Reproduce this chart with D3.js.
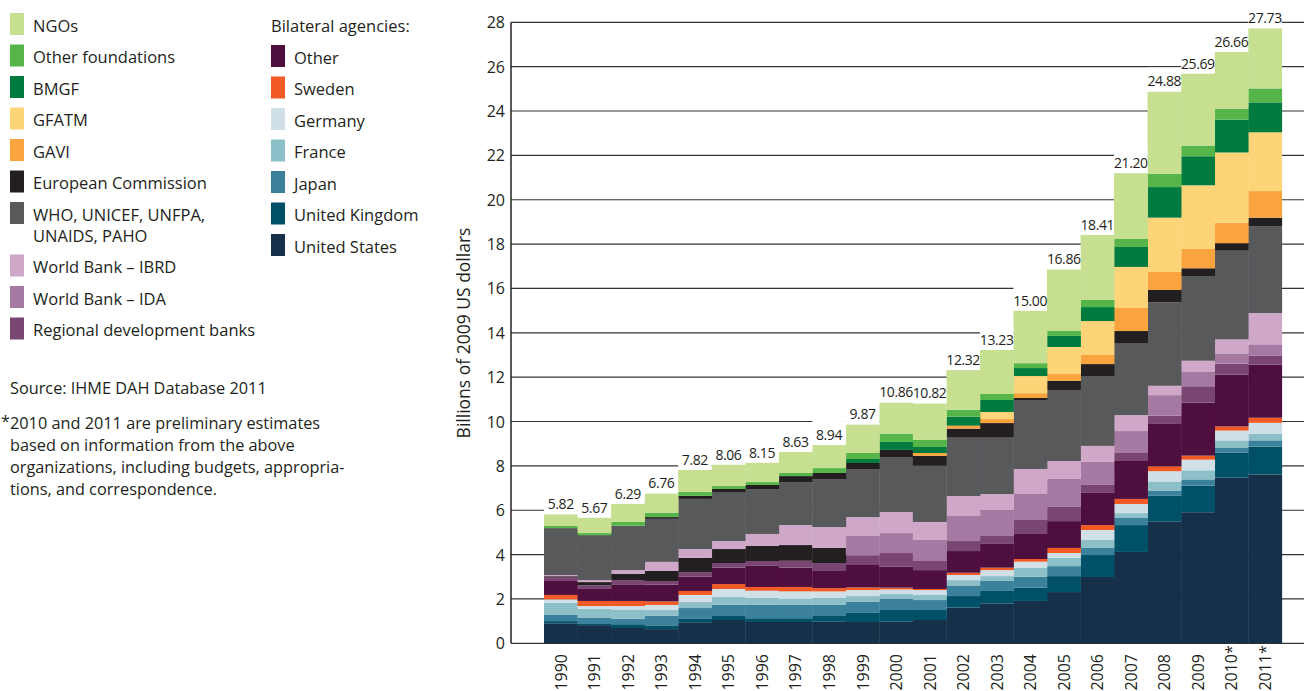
<!DOCTYPE html>
<html lang="en">
<head>
<meta charset="UTF-8">
<title>Development assistance for health by channel, 1990-2011</title>
<script src="https://cdn.jsdelivr.net/npm/d3@7"></script>
<style>
  body { margin: 0; background: #fff; }
  svg { display: block; font-family: "Open Sans", sans-serif; }
</style>
</head>
<body>
<svg id="chart" width="1304" height="691"></svg>
<script>
// ---- data (billions of 2009 US$) ----
const years = [1990,1991,1992,1993,1994,1995,1996,1997,1998,1999,2000,2001,2002,2003,2004,2005,2006,2007,2008,2009,2010,2011];
const yearLabels = ["1990","1991","1992","1993","1994","1995","1996","1997","1998","1999","2000","2001","2002","2003","2004","2005","2006","2007","2008","2009","2010*","2011*"];
const totals = [5.82,5.67,6.29,6.76,7.82,8.06,8.15,8.63,8.94,9.87,10.86,10.82,12.32,13.23,15.00,16.86,18.41,21.20,24.88,25.69,26.66,27.73];
const yTicks = [0,2,4,6,8,10,12,14,16,18,20,22,24,26,28];

const unitedStates   = [0.90,0.82,0.69,0.64,0.95,1.05,0.96,0.96,0.97,0.96,0.97,1.05,1.61,1.80,1.91,2.31,2.99,4.12,5.48,5.91,7.48,7.61];
const unitedKingdom  = [0.10,0.05,0.17,0.17,0.15,0.18,0.17,0.17,0.26,0.41,0.53,0.45,0.52,0.56,0.60,0.72,0.99,1.21,1.17,1.20,1.11,1.26];
const japan          = [0.28,0.27,0.25,0.43,0.49,0.51,0.61,0.60,0.50,0.51,0.50,0.45,0.48,0.45,0.49,0.45,0.32,0.32,0.24,0.28,0.24,0.28];
const france         = [0.55,0.41,0.42,0.26,0.27,0.35,0.30,0.27,0.31,0.25,0.22,0.23,0.24,0.22,0.41,0.38,0.36,0.22,0.41,0.41,0.32,0.31];
const germany        = [0.15,0.13,0.15,0.23,0.32,0.36,0.33,0.34,0.30,0.27,0.21,0.22,0.23,0.27,0.27,0.21,0.45,0.41,0.46,0.48,0.44,0.48];
const sweden         = [0.20,0.23,0.23,0.16,0.18,0.22,0.17,0.20,0.15,0.12,0.08,0.05,0.10,0.11,0.12,0.23,0.22,0.23,0.22,0.18,0.19,0.23];
const otherBilateral = [0.63,0.54,0.75,0.75,0.64,0.74,0.95,0.87,0.77,1.01,0.94,0.85,0.98,1.07,1.13,1.21,1.45,1.71,1.91,2.39,2.33,2.39];
const regionalBanks  = [0.19,0.16,0.19,0.17,0.21,0.21,0.22,0.31,0.36,0.44,0.62,0.41,0.45,0.36,0.63,0.64,0.36,0.36,0.37,0.74,0.50,0.42];
const worldBankIDA   = [0.03,0.15,0.29,0.45,0.64,0.63,0.68,0.71,0.68,0.87,0.90,0.95,1.13,1.17,1.20,1.26,1.04,0.99,0.93,0.67,0.46,0.50];
const worldBankIBRD  = [0.05,0.09,0.16,0.41,0.40,0.36,0.54,0.90,0.94,0.85,0.95,0.81,0.90,0.72,1.10,0.81,0.72,0.72,0.42,0.48,0.63,1.41];
const unAgencies     = [2.08,1.96,2.00,1.94,2.26,2.18,2.00,1.94,2.14,2.14,2.45,2.54,2.63,2.54,3.11,3.20,3.15,3.25,3.76,3.82,4.00,3.92];
const europeanComm   = [0.03,0.06,0.00,0.08,0.14,0.17,0.21,0.27,0.30,0.30,0.35,0.44,0.41,0.66,0.09,0.41,0.54,0.54,0.56,0.35,0.34,0.38];
const gavi           = [0,0,0,0,0,0,0,0,0,0,0,0.13,0.13,0.18,0.22,0.31,0.41,1.04,0.81,0.87,0.92,1.20];
const gfatm          = [0,0,0,0,0,0,0,0,0,0,0,0,0,0.32,0.77,1.22,1.53,1.85,2.45,2.87,3.17,2.65];
const bmgf           = [0,0,0,0,0,0,0,0,0,0.18,0.36,0.27,0.41,0.54,0.36,0.50,0.63,0.90,1.38,1.31,1.48,1.35];
const otherFound     = [0.10,0.10,0.17,0.20,0.17,0.13,0.13,0.14,0.22,0.27,0.36,0.32,0.31,0.27,0.22,0.22,0.32,0.36,0.60,0.48,0.50,0.63];
const ngos           = [0.53,0.70,0.82,0.87,1.00,0.97,0.88,0.95,1.04,1.29,1.42,1.65,1.79,1.99,2.37,2.78,2.93,2.97,3.71,3.25,2.55,2.71];

// years in which the IDA layer is printed in the same near-black as the EC in the source figure
const idaDarkYears = [1990,1991,1992,1993,1994,1995,1996,1997,1998];

// stack order, bottom to top
const series = [
  { key: "us",   label: "United States",                   values: unitedStates,   color: "#163049" },
  { key: "uk",   label: "United Kingdom",                  values: unitedKingdom,  color: "#005068" },
  { key: "jp",   label: "Japan",                           values: japan,          color: "#3b819b" },
  { key: "fr",   label: "France",                          values: france,         color: "#8dbfc8" },
  { key: "de",   label: "Germany",                         values: germany,        color: "#d0e0e6" },
  { key: "se",   label: "Sweden",                          values: sweden,         color: "#f15a24" },
  { key: "ob",   label: "Other",                           values: otherBilateral, color: "#4f0f3e" },
  { key: "rdb",  label: "Regional development banks",      values: regionalBanks,  color: "#794672" },
  { key: "ida",  label: "World Bank \u2013 IDA",           values: worldBankIDA,   color: "#a679a2" },
  { key: "ibrd", label: "World Bank \u2013 IBRD",          values: worldBankIBRD,  color: "#cfa8c9" },
  { key: "un",   label: "WHO, UNICEF, UNFPA,|UNAIDS, PAHO", values: unAgencies,    color: "#58595b" },
  { key: "ec",   label: "European Commission",             values: europeanComm,   color: "#231f20" },
  { key: "gavi", label: "GAVI",                            values: gavi,           color: "#f9a43f" },
  { key: "gf",   label: "GFATM",                           values: gfatm,          color: "#fdd578" },
  { key: "bmgf", label: "BMGF",                            values: bmgf,           color: "#007b3d" },
  { key: "of",   label: "Other foundations",               values: otherFound,     color: "#55b548" },
  { key: "ngo",  label: "NGOs",                            values: ngos,           color: "#c6df91" }
];
const leftLegendKeys = ["ngo","of","bmgf","gf","gavi","ec","un","ibrd","ida","rdb"];
const rightLegendKeys = ["ob","se","de","fr","jp","uk","us"];

// ---- drawing ----
const svg = d3.select("#chart");
const textColor = "#231f20";
const axisX = 511;

const table = years.map((yr, i) => {
  const row = { year: yr };
  series.forEach(s => row[s.key] = s.values[i]);
  return row;
});
const stacked = d3.stack().keys(series.map(s => s.key))(table);
const colorOf = Object.fromEntries(series.map(s => [s.key, s.color]));

const x = d3.scaleBand().domain(years).range([544, 1281.7]).padding(0);
const y = d3.scaleLinear().domain([0, 28]).range([643.3, 22.3]);

// gridlines
svg.append("g")
  .selectAll("line")
  .data(yTicks)
  .join("line")
  .attr("x1", axisX).attr("x2", 1304)
  .attr("y1", d => y(d)).attr("y2", d => y(d))
  .attr("stroke", "#333").attr("stroke-width", 1.2);

svg.append("line")
  .attr("x1", axisX).attr("x2", axisX)
  .attr("y1", y(28)).attr("y2", y(0))
  .attr("stroke", "#222").attr("stroke-width", 1.5);

// tick labels
svg.append("g")
  .selectAll("text")
  .data(yTicks)
  .join("text")
  .attr("x", 505)
  .attr("y", d => y(d))
  .attr("text-anchor", "end")
  .attr("dominant-baseline", "central")
  .style("font-size", "16px")
  .attr("fill", textColor)
  .text(d => d);

svg.append("text")
  .attr("transform", "translate(463,333) rotate(-90)")
  .attr("text-anchor", "middle")
  .attr("dominant-baseline", "central")
  .style("font-size", "17.5px")
  .attr("fill", textColor)
  .text("Billions of 2009 US dollars");

// stacked bars
svg.append("g")
  .selectAll("g")
  .data(stacked)
  .join("g")
  .each(function (layer) {
    d3.select(this).selectAll("rect")
      .data(layer.filter(d => d[1] - d[0] > 0))
      .join("rect")
      .attr("x", d => x(d.data.year))
      .attr("width", x.bandwidth() + 0.4)
      .attr("y", d => y(d[1]))
      .attr("height", d => y(d[0]) - y(d[1]))
      .attr("fill", d => (layer.key === "ida" && idaDarkYears.includes(d.data.year)) ? colorOf.ec : colorOf[layer.key]);
  });

// total labels with white boxes
const labels = svg.append("g");
labels.selectAll("rect")
  .data(years)
  .join("rect")
  .attr("x", d => x(d))
  .attr("width", x.bandwidth())
  .attr("y", (d, i) => y(totals[i]) - 24)
  .attr("height", 24)
  .attr("fill", "#fff");
labels.selectAll("text")
  .data(years)
  .join("text")
  .attr("x", d => x(d) + x.bandwidth() / 2)
  .attr("y", (d, i) => y(totals[i]) - 5)
  .attr("text-anchor", "middle")
  .style("font-size", "14px")
  .style("letter-spacing", "-0.4px")
  .attr("fill", textColor)
  .text((d, i) => totals[i].toFixed(2));

// year labels: digits end just under the axis, the asterisk runs on past it
const yearG = svg.append("g").style("font-size", "16px").attr("fill", textColor);
years.forEach((yr, i) => {
  const cx = x(yr) + x.bandwidth() / 2;
  const digits = yearLabels[i].replace("*", "");
  yearG.append("text")
    .attr("transform", `translate(${cx},654) rotate(-90)`)
    .attr("text-anchor", "end")
    .attr("dominant-baseline", "central")
    .text(digits);
  if (yearLabels[i].endsWith("*")) {
    yearG.append("text")
      .attr("transform", `translate(${cx},654) rotate(-90)`)
      .attr("text-anchor", "start")
      .attr("dominant-baseline", "central")
      .text("*");
  }
});

// legend
const seriesByKey = Object.fromEntries(series.map(s => [s.key, s]));
function legendItem(g, s, xPos, top) {
  g.append("rect").attr("x", xPos).attr("y", top).attr("width", 14).attr("height", 22).attr("fill", s.color);
  s.label.split("|").forEach((line, j) => {
    g.append("text")
      .attr("x", xPos + 23)
      .attr("y", top + 12 + j * 21)
      .attr("dominant-baseline", "central")
      .style("font-size", "16.5px")
      .attr("fill", textColor)
      .text(line);
  });
}
const legend = svg.append("g");
leftLegendKeys.forEach((k, i) => {
  legendItem(legend, seriesByKey[k], 10, 13 + i * 31.5 + (i >= 7 ? 21 : 0));
});
legend.append("text")
  .attr("x", 271).attr("y", 25)
  .attr("dominant-baseline", "central")
  .style("font-size", "16.5px")
  .attr("fill", textColor)
  .text("Bilateral agencies:");
rightLegendKeys.forEach((k, i) => {
  legendItem(legend, seriesByKey[k], 271, 45 + i * 31.5);
});

// notes
const notes = svg.append("g").style("font-size", "16.3px").attr("fill", textColor);
notes.append("text").attr("x", 10).attr("y", 388).attr("dominant-baseline", "central")
  .text("Source: IHME DAH Database 2011");
notes.append("text").attr("x", 1).attr("y", 421).attr("dominant-baseline", "central").text("*");
["2010 and 2011 are preliminary estimates",
 "based on information from the above",
 "organizations, including budgets, appropria-",
 "tions, and correspondence."].forEach((line, i) => {
  notes.append("text").attr("x", 10).attr("y", 423 + i * 22)
    .attr("dominant-baseline", "central").text(line);
});
</script>
</body>
</html>
